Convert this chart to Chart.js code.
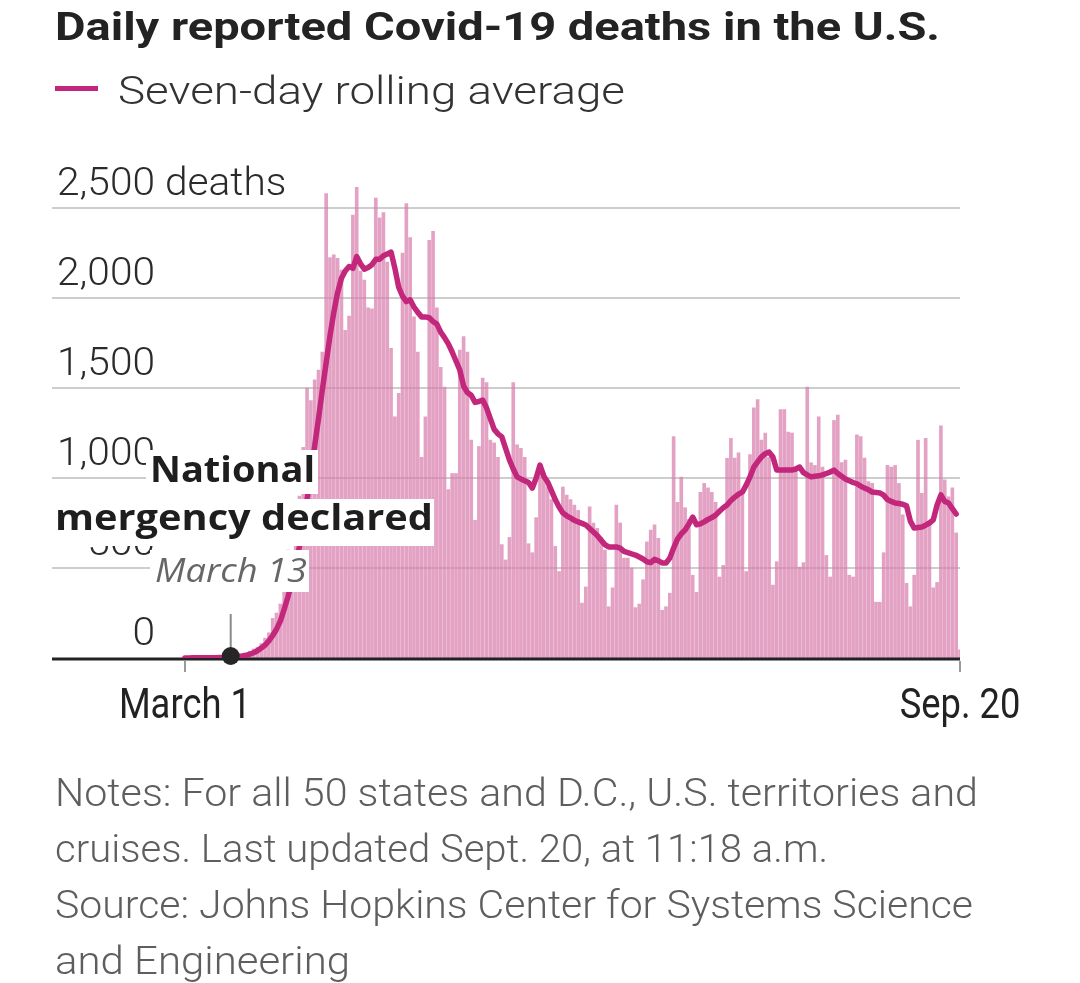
<!DOCTYPE html>
<html>
<head>
<meta charset="utf-8">
<script src="https://cdn.jsdelivr.net/npm/chart.js@4.4.0/dist/chart.umd.min.js"></script>
<style>
  html, body { margin: 0; padding: 0; background: #fff; }
  body { width: 1080px; height: 983px; position: relative; overflow: hidden; font-family: Roboto, "Noto Sans", sans-serif; }
  #chart { position: absolute; left: 0; top: 0; }
  .txt { position: absolute; white-space: nowrap; line-height: 1; transform-origin: 0 0; }
  #title { left: 55px; top: 8px; font-size: 39px; font-weight: 700; color: #232323; }
  #legendKey { position: absolute; left: 55px; top: 86px; width: 43px; height: 5px; background: #c2277c; }
  #legendText { left: 118px; top: 72px; font-size: 39px; font-weight: 300; color: #333; }
  .note { left: 55px; font-size: 38px; font-weight: 300; color: #5e5e5e; }
</style>
</head>
<body>
<canvas id="chart" width="1080" height="983"></canvas>
<div class="txt" id="title" data-w="885">Daily reported Covid-19 deaths in the U.S.</div>
<div id="legendKey"></div>
<div class="txt" id="legendText" data-w="507">Seven-day rolling average</div>
<div class="txt note" style="top:774px" data-w="923">Notes: For all 50 states and D.C., U.S. territories and</div>
<div class="txt note" style="top:830px" data-w="773">cruises. Last updated Sept. 20, at 11:18 a.m.</div>
<div class="txt note" style="top:886px" data-w="918">Source: Johns Hopkins Center for Systems Science</div>
<div class="txt note" style="top:942px" data-w="295">and Engineering</div>
<script>
// day index 0 = March 1, 2020 ... 203 = Sept. 20
const xTickIndex = [0, 203];
const xTickLabels = ['March 1', 'Sep. 20'];
const yTicks = [0, 500, 1000, 1500, 2000, 2500];
const yTickLabels = ['0', '500', '1,000', '1,500', '2,000', '2,500'];
const eventIndex = 12; // March 13

const dailyDeaths = [
  0, 1, 1, 1, 2, 1, 2, 3, 4, 4, 5, 6, 8, 10,
  12, 18, 24, 38, 50, 60, 80,
  110, 140, 220, 250, 300, 430, 600,
  520, 650, 900, 1170, 1500, 1430, 1545,
  1600, 1700, 2580, 2225, 2240, 2220, 2155,
  1820, 1900, 2460, 2615, 2150, 2100, 1945,
  1940, 2555, 2445, 2475, 2200, 1720, 1340,
  1470, 2250, 2525, 2335, 1895, 1700, 1115,
  1340, 2320, 2370, 1945, 1615, 1505, 935,
  1025, 1025, 1710, 1785, 1700, 1210, 765,
  1175, 1555, 1530, 1210, 1195, 1115, 630,
  545, 670, 1530, 1185, 1165, 1115, 635,
  585, 780, 1075, 1030, 950, 880, 620,
  480, 950, 905, 880, 850, 820, 305,
  395, 840, 750, 720, 670, 600, 285,
  390, 850, 750, 555, 555, 500, 280,
  300, 435, 645, 710, 740, 665, 265,
  285, 360, 1230, 865, 1005, 835, 770,
  460, 365, 920, 970, 945, 920, 865,
  450, 515, 1110, 1220, 1110, 1140, 905,
  480, 1130, 1390, 1435, 1210, 1250, 1115,
  405, 535, 1380, 1380, 1255, 1250, 1045,
  505, 530, 1505, 1085, 1070, 1340, 1060,
  570, 450, 1320, 1350, 1085, 1100, 460,
  450, 1240, 1230, 1110, 980, 970, 310,
  310, 585, 1070, 1060, 1070, 970, 795,
  415, 285, 460, 1210, 915, 1220, 740,
  390, 420, 1290, 990, 895, 945, 695,
  45
];

const rollingAvg = [
  0, 0, 1, 1, 1, 1, 2, 2, 2, 3, 3, 4, 5, 6,
  8, 11, 15, 21, 29, 40, 55,
  72, 95, 125, 160, 205, 270, 340,
  420, 510, 620, 740, 880, 1030, 1180,
  1330, 1490, 1640, 1790, 1920, 2030, 2110,
  2150, 2175, 2165, 2230, 2190, 2160, 2170,
  2185, 2215, 2215, 2235, 2245, 2255, 2165,
  2060, 2010, 1980, 1990, 1950, 1920, 1895,
  1895, 1890, 1870, 1855, 1810, 1780, 1745,
  1700, 1650, 1600, 1510, 1475, 1460, 1420,
  1425, 1433, 1390, 1330, 1270, 1245, 1228,
  1165, 1100, 1050, 1006, 995, 985, 975,
  944, 1000, 1072, 1010, 978, 930, 880,
  839, 806, 790, 778, 765, 756, 748,
  739, 720, 700, 680, 655, 630, 617,
  617, 617, 610, 592, 585, 578, 572,
  561, 550, 535, 530, 548, 540, 528,
  528, 555, 611, 660, 690, 711, 745,
  783, 740, 745, 756, 770, 780, 794,
  815, 835, 850, 875, 894, 910, 922,
  960, 1006, 1060, 1090, 1117, 1135, 1144,
  1117, 1044, 1044, 1044, 1044, 1044, 1050,
  1061, 1030, 1017, 1006, 1010, 1012, 1017,
  1025, 1033, 1044, 1025, 1010, 995, 985,
  975, 968, 955, 944, 935, 922, 920,
  917, 905, 880, 870, 861, 858, 854,
  845, 760, 722, 725, 728, 738, 750,
  767, 850, 906, 870, 861, 830, 800,
  null
];

// stretch html text to the widths seen in the original
document.querySelectorAll('.txt[data-w]').forEach(function(el) {
  const w = parseFloat(el.dataset.w);
  const actual = el.getBoundingClientRect().width;
  el.style.transform = 'scaleX(' + (w / actual) + ')';
});

function scaleFor(ctx, font, text, targetW) {
  ctx.font = font;
  return targetW / ctx.measureText(text).width;
}

function drawScaled(ctx, text, x, y, sx, align) {
  ctx.save();
  ctx.translate(x, y);
  ctx.scale(sx, 1);
  ctx.textAlign = align;
  ctx.textBaseline = 'alphabetic';
  ctx.fillText(text, 0, 0);
  ctx.restore();
}

const overlay = {
  id: 'overlay',
  beforeDatasetsDraw(chart) {
    const { ctx, chartArea, scales: { y } } = chart;
    ctx.save();
    ctx.strokeStyle = '#cdcdcd';
    ctx.lineWidth = 2;
    yTicks.forEach(function(v) {
      if (v === 0) return;
      const py = Math.round(y.getPixelForValue(v));
      ctx.beginPath();
      ctx.moveTo(chartArea.left, py);
      ctx.lineTo(chartArea.right, py);
      ctx.stroke();
    });
    const font = '300 39px Roboto';
    const sx = scaleFor(ctx, font, '2,000', 98);
    ctx.fillStyle = '#2b2b2b';
    yTicks.forEach(function(v, i) {
      const py = y.getPixelForValue(v) - 13;
      drawScaled(ctx, yTickLabels[i], 155, py, sx, 'right');
      if (i === yTicks.length - 1) drawScaled(ctx, ' deaths', 155, py, sx, 'left');
    });
    ctx.restore();
  },
  afterDatasetDraw(chart, args) {
    if (args.index !== 1) return;
    const { ctx, chartArea, scales: { y } } = chart;
    const y0 = y.getPixelForValue(0);
    ctx.save();
    ctx.strokeStyle = '#222';
    ctx.lineWidth = 3;
    ctx.beginPath();
    ctx.moveTo(chartArea.left, y0 + 1);
    ctx.lineTo(chartArea.right, y0 + 1);
    ctx.stroke();
    ctx.restore();
  },
  afterDatasetsDraw(chart) {
    const { ctx, scales: { x, y } } = chart;
    const y0 = y.getPixelForValue(0);
    ctx.save();

    // x ticks and labels
    ctx.strokeStyle = '#9a9a9a';
    ctx.lineWidth = 2;
    xTickIndex.forEach(function(d) {
      const px = Math.round(x.getPixelForValue(d));
      ctx.beginPath();
      ctx.moveTo(px, y0 + 3);
      ctx.lineTo(px, y0 + 14);
      ctx.stroke();
    });
    const xfont = '400 42px Roboto';
    const xsx = scaleFor(ctx, xfont, 'March 1', 132);
    ctx.fillStyle = '#222';
    xTickIndex.forEach(function(d, i) {
      drawScaled(ctx, xTickLabels[i], x.getPixelForValue(d), 718, xsx, 'center');
    });

    // March 13 marker
    const ex = x.getPixelForValue(eventIndex);
    ctx.strokeStyle = '#8a8a8a';
    ctx.lineWidth = 2;
    ctx.beginPath();
    ctx.moveTo(ex, y0 - 44);
    ctx.lineTo(ex, y0);
    ctx.stroke();
    ctx.fillStyle = '#262626';
    ctx.beginPath();
    ctx.arc(ex, y0 - 2, 9, 0, Math.PI * 2);
    ctx.fill();

    // annotation boxes
    ctx.fillStyle = '#fff';
    ctx.fillRect(146, 450, 172, 44);
    ctx.fillRect(52, 499, 382, 47);
    ctx.fillRect(150, 550, 159, 42);

    const bfont = '700 35px "Open Sans", "Noto Sans", sans-serif';
    const bsx = scaleFor(ctx, bfont, 'National', 165);
    ctx.fillStyle = '#1e1e1e';
    drawScaled(ctx, 'National', 150, 482, bsx, 'left');
    const esx = scaleFor(ctx, bfont, 'mergency declared', 378);
    ctx.save();
    ctx.beginPath();
    ctx.rect(54, 480, 400, 80);
    ctx.clip();
    drawScaled(ctx, 'Emergency declared', 433, 530, esx, 'right');
    ctx.restore();

    const ifont = 'italic 400 33px "Open Sans", "Noto Sans", sans-serif';
    const isx = scaleFor(ctx, ifont, 'March 13', 152);
    ctx.fillStyle = '#666';
    drawScaled(ctx, 'March 13', 155, 582, isx, 'left');

    ctx.restore();
  }
};

new Chart(document.getElementById('chart').getContext('2d'), {
  type: 'bar',
  data: {
    datasets: [
      {
        type: 'line',
        label: 'Seven-day rolling average',
        data: rollingAvg.map(function(v, i) { return { x: i, y: v }; }),
        borderColor: '#c2277c',
        borderWidth: 5.5,
        pointRadius: 0,
        tension: 0,
        borderJoinStyle: 'round',
        borderCapStyle: 'round',
        order: 0
      },
      {
        type: 'bar',
        label: 'Daily deaths',
        data: dailyDeaths.map(function(v, i) { return { x: i, y: v }; }),
        backgroundColor: 'rgba(216, 126, 172, 0.72)',
        barThickness: 3,
        order: 1
      }
    ]
  },
  options: {
    responsive: false,
    animation: false,
    layout: { padding: { left: 52, right: 120, top: 172, bottom: 325 } },
    scales: {
      x: { type: 'linear', min: -34.8, max: 203, offset: false, grid: { offset: false }, display: false },
      y: { min: 0, max: 2700, display: false }
    },
    plugins: { legend: { display: false }, tooltip: { enabled: false } }
  },
  plugins: [overlay]
});
</script>
</body>
</html>
